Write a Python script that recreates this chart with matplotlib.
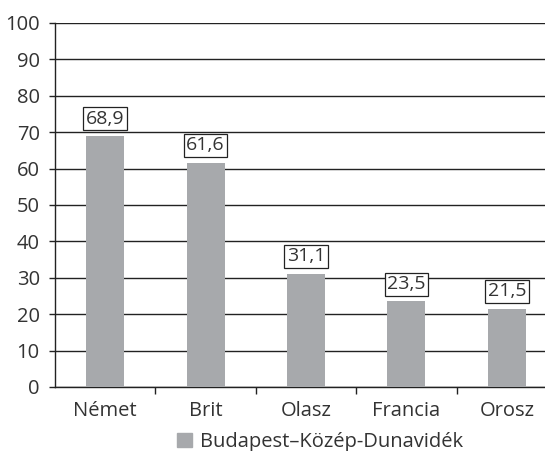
import matplotlib.pyplot as plt
from matplotlib.patches import Patch

categories = ["Német", "Brit", "Olasz", "Francia", "Orosz"]
values = [68.9, 61.6, 31.1, 23.5, 21.5]
series_name = "Budapest–Közép-Dunavidék"

plt.rcParams['font.family'] = ['Open Sans', 'DejaVu Sans']
text_color = "#333333"
bar_color = "#a7a9ac"

W, H = 545, 451
fig = plt.figure(figsize=(W / 100, H / 100), dpi=100)
# plot area runs past the right edge of the figure
ax = fig.add_axes([55 / W, (H - 387) / H, 502 / W, (387 - 23) / H])

x = list(range(len(categories)))
ax.bar(x, values, width=0.38, color=bar_color, zorder=3)

for xi, v in zip(x, values):
    ax.annotate(f"{v:.1f}".replace(".", ","), (xi, v), xytext=(0, 6),
                textcoords="offset points", ha="center", va="bottom",
                fontsize=14, color=text_color, zorder=4,
                bbox=dict(boxstyle="square,pad=0.13", fc="white", ec="#222222", lw=0.9))

ax.set_xlim(-0.5, len(categories) - 0.5)
ax.set_ylim(0, 100)
ax.set_yticks(range(0, 101, 10))
ax.yaxis.grid(True, color="#222222", lw=1.0, zorder=0)
ax.set_axisbelow(True)

ax.set_xticks(x)
ax.set_xticklabels(categories)
ax.set_xticks([i + 0.5 for i in x[:-1]], minor=True)
ax.tick_params(axis="x", which="major", length=0, pad=10, labelsize=14.5, labelcolor=text_color)
ax.tick_params(axis="x", which="minor", length=5, width=1, color="#222222")
ax.tick_params(axis="y", length=4, width=1, pad=7, labelsize=14.5, labelcolor=text_color, color="#222222")

for side in ("top", "right"):
    ax.spines[side].set_visible(False)
for side in ("left", "bottom"):
    ax.spines[side].set_color("#222222")
    ax.spines[side].set_linewidth(1.0)

fig.legend(handles=[Patch(color=bar_color, label=series_name)],
           loc="center", bbox_to_anchor=(320 / W, (H - 442) / H),
           frameon=False, fontsize=14.5, handlelength=0.75, handleheight=0.75,
           handletextpad=0.4, labelcolor=text_color)

fig.savefig("out.png", dpi=100)
